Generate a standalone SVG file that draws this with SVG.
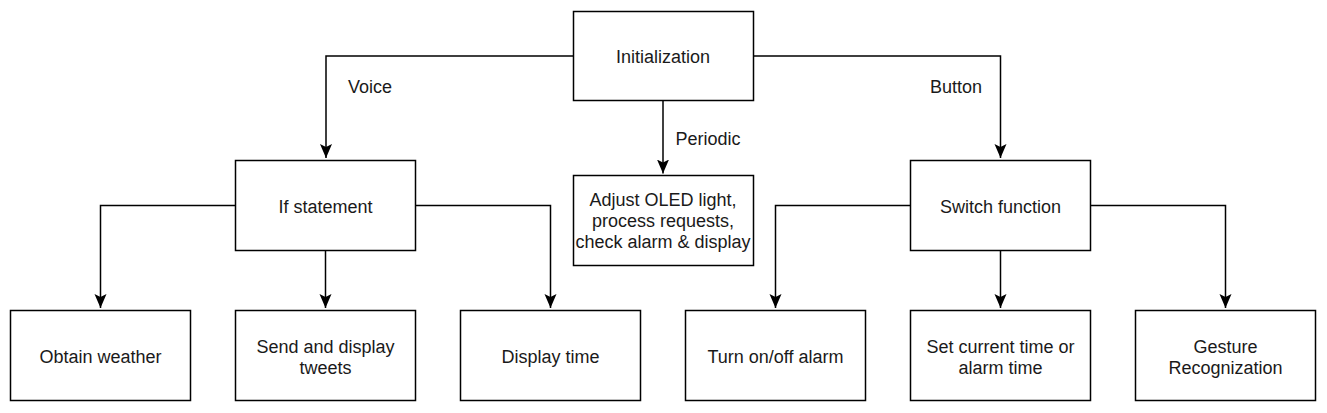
<svg xmlns="http://www.w3.org/2000/svg" width="1327" height="413" viewBox="0 0 1327 413">
<style>
.box{fill:#fff;stroke:#000;stroke-width:1.5}
.t{font-family:"Liberation Sans",Arial,sans-serif;font-size:18px;fill:#1a1a1a;text-anchor:middle}
.e{fill:none;stroke:#000;stroke-width:1.5}
</style>
<defs>
<marker id="arr" markerUnits="userSpaceOnUse" markerWidth="16" markerHeight="14" viewBox="0 -7 16 14" refX="14" refY="0" orient="auto">
<path d="M0,-6 L14,0 L0,6 L3,0 Z" fill="#000"/>
</marker>
</defs>
<rect width="1327" height="413" fill="#fff"/>
<g id="connectors">
<path class="e" d="M573,56 H326 V158" marker-end="url(#arr)"/>
<path class="e" d="M753,56 H1000.5 V158" marker-end="url(#arr)"/>
<path class="e" d="M663,101 V173.5" marker-end="url(#arr)"/>
<path class="e" d="M235.5,205.5 H100.5 V308" marker-end="url(#arr)"/>
<path class="e" d="M325.5,250.5 V308" marker-end="url(#arr)"/>
<path class="e" d="M415.5,205.5 H550.5 V308" marker-end="url(#arr)"/>
<path class="e" d="M910.5,205.5 H775.5 V308" marker-end="url(#arr)"/>
<path class="e" d="M1000.5,250.5 V308" marker-end="url(#arr)"/>
<path class="e" d="M1090.5,205.5 H1225.5 V308" marker-end="url(#arr)"/>
<text class="t" x="370" y="93">Voice</text>
<text class="t" x="956" y="93">Button</text>
<text class="t" x="708" y="145">Periodic</text>
</g>
<g id="init"><rect class="box" x="573.5" y="11.5" width="180" height="89"/><text class="t" x="663" y="63">Initialization</text></g>
<g id="periodic"><rect class="box" x="573.5" y="175.5" width="180" height="90"/><text class="t" x="663" y="206">Adjust OLED light,</text><text class="t" x="663" y="227">process requests,</text><text class="t" x="663" y="248">check alarm &amp; display</text></g>
<g id="ifstmt"><rect class="box" x="235.5" y="160.5" width="180" height="90"/><text class="t" x="325.5" y="213">If statement</text></g>
<g id="switch"><rect class="box" x="910.5" y="160.5" width="180" height="90"/><text class="t" x="1000.5" y="213">Switch function</text></g>
<g id="weather"><rect class="box" x="10.5" y="310.5" width="180" height="90"/><text class="t" x="100.5" y="363">Obtain weather</text></g>
<g id="tweets"><rect class="box" x="235.5" y="310.5" width="180" height="90"/><text class="t" x="325.5" y="353">Send and display</text><text class="t" x="325.5" y="374">tweets</text></g>
<g id="time"><rect class="box" x="460.5" y="310.5" width="180" height="90"/><text class="t" x="550.5" y="363">Display time</text></g>
<g id="alarm"><rect class="box" x="685.5" y="310.5" width="180" height="90"/><text class="t" x="775.5" y="363">Turn on/off alarm</text></g>
<g id="settime"><rect class="box" x="910.5" y="310.5" width="180" height="90"/><text class="t" x="1000.5" y="353">Set current time or</text><text class="t" x="1000.5" y="374">alarm time</text></g>
<g id="gesture"><rect class="box" x="1135.5" y="310.5" width="180" height="90"/><text class="t" x="1225.5" y="353">Gesture</text><text class="t" x="1225.5" y="374">Recognization</text></g>
</svg>
